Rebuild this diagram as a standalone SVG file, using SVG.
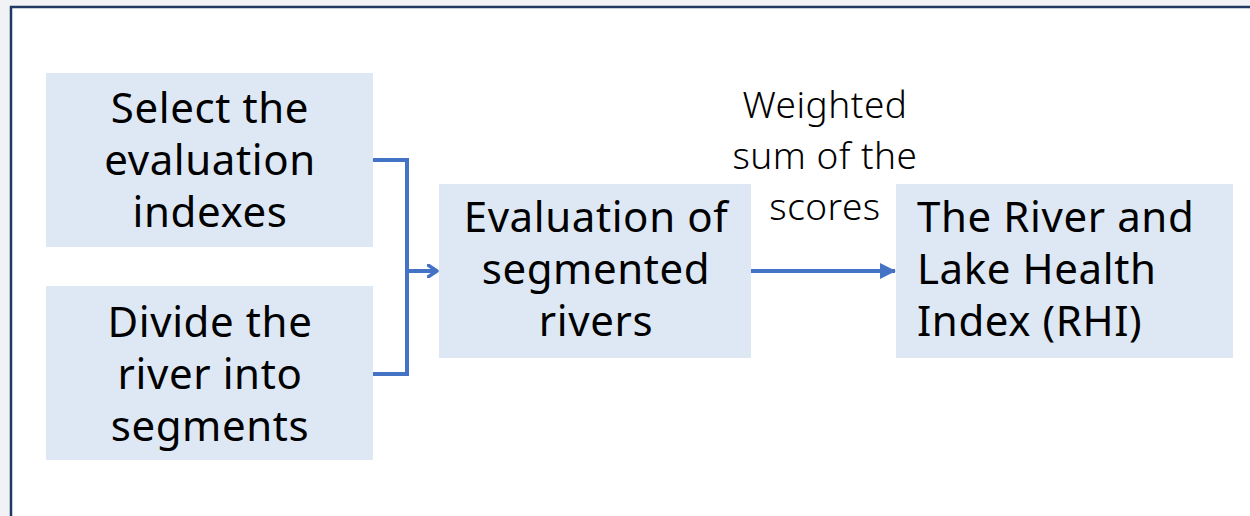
<svg xmlns="http://www.w3.org/2000/svg" width="1250" height="516" viewBox="0 0 1250 516">
<defs>
<style>
.box{fill:#dde8f4}
.t{font-family:"Noto Sans","Open Sans",sans-serif;font-size:42px;letter-spacing:0.6px;fill:#000}
.c{text-anchor:middle}
.lbl{font-family:"Noto Sans","Open Sans",sans-serif;font-size:37px;font-weight:300;letter-spacing:0.5px;fill:#000;text-anchor:middle}
.ln{fill:none;stroke:#4472c4;stroke-width:4}
</style>
<marker id="open" markerWidth="12" markerHeight="14" refX="10" refY="7" orient="auto" markerUnits="userSpaceOnUse">
<path d="M1,1 L10,7 L1,13" fill="none" stroke="#4472c4" stroke-width="3.5" stroke-linecap="round" stroke-linejoin="round"/>
</marker>
<marker id="tri" markerWidth="16" markerHeight="16" refX="15" refY="8" orient="auto" markerUnits="userSpaceOnUse">
<path d="M0,0 L16,8 L0,16 Z" fill="#4472c4"/>
</marker>
</defs>
<rect x="0" y="0" width="1250" height="516" fill="#f0f2f5"/>
<rect x="11" y="7" width="1260" height="540" fill="#fff" stroke="#1f3864" stroke-width="2.5"/>
<g id="n1">
<rect class="box" x="46" y="73" width="327" height="174"/>
<text class="t c" x="210" y="123">Select the</text>
<text class="t c" x="210" y="175">evaluation</text>
<text class="t c" x="210" y="227">indexes</text>
</g>
<g id="n2">
<rect class="box" x="46" y="286" width="327" height="174"/>
<text class="t c" x="210" y="337">Divide the</text>
<text class="t c" x="210" y="389">river into</text>
<text class="t c" x="210" y="441">segments</text>
</g>
<g id="n3">
<rect class="box" x="439" y="184" width="312" height="174"/>
<text class="t c" x="596" y="232">Evaluation of</text>
<text class="t c" x="596" y="284">segmented</text>
<text class="t c" x="596" y="336">rivers</text>
</g>
<g id="n4">
<rect class="box" x="896" y="184" width="337" height="174"/>
<text class="t" x="917" y="232">The River and</text>
<text class="t" x="917" y="284">Lake Health</text>
<text class="t" x="917" y="336">Index (RHI)</text>
</g>
<g id="connectors">
<polyline class="ln" points="373,160 407,160 407,374 373,374"/>
<line class="ln" x1="407" y1="271" x2="437" y2="271" marker-end="url(#open)"/>
<line class="ln" x1="751" y1="271" x2="895" y2="271" marker-end="url(#tri)"/>
<text class="lbl" x="825" y="118">Weighted</text>
<text class="lbl" x="825" y="169">sum of the</text>
<text class="lbl" x="825" y="220">scores</text>
</g>
</svg>
